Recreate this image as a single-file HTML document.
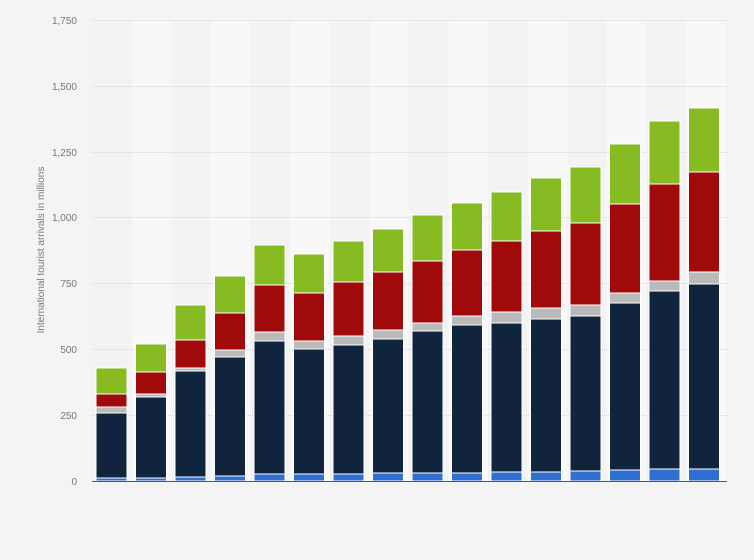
<!DOCTYPE html>
<html><head><meta charset="utf-8"><style>
html,body{margin:0;padding:0;background:#f4f4f4;}
svg{display:block;font-family:"Liberation Sans",sans-serif;}
</style></head><body>
<svg width="754" height="560" viewBox="0 0 754 560">
<rect width="754" height="560" fill="#f4f4f4"/>
<g id="stripes"></g>
<g stroke="#d6d6d6" stroke-width="1" stroke-dasharray="1,1">
<line x1="92" x2="727" y1="20.5" y2="20.5"/>
<line x1="92" x2="727" y1="86.5" y2="86.5"/>
<line x1="92" x2="727" y1="152.5" y2="152.5"/>
<line x1="92" x2="727" y1="217.5" y2="217.5"/>
<line x1="92" x2="727" y1="283.5" y2="283.5"/>
<line x1="92" x2="727" y1="349.5" y2="349.5"/>
<line x1="92" x2="727" y1="415.5" y2="415.5"/>
</g>
<g font-size="10" fill="#777" text-anchor="end">
<text x="77" y="24">1,750</text>
<text x="77" y="90">1,500</text>
<text x="77" y="156">1,250</text>
<text x="77" y="221">1,000</text>
<text x="77" y="287">750</text>
<text x="77" y="353">500</text>
<text x="77" y="419">250</text>
<text x="77" y="485">0</text>
</g>
<text transform="translate(44,250) rotate(-90)" font-size="10" fill="#777" text-anchor="middle">International tourist arrivals in millions</text>
<g id="bars" stroke="#fff" stroke-width="1"></g>
<line x1="92" x2="727" y1="481.5" y2="481.5" stroke="#555" stroke-width="1"/>
<script>
var ns="http://www.w3.org/2000/svg";
var st=document.getElementById("stripes");
for(var i=0;i<16;i++){var r=document.createElementNS(ns,"rect");r.setAttribute("x",92+i*39.6);r.setAttribute("y",20);r.setAttribute("width",39.6);r.setAttribute("height",461);r.setAttribute("fill",i%2?"#f8f8f8":"#f3f3f3");st.appendChild(r);}
var d=[[368,394,407,413,478],[344,372,394,397,478],[305,340,368,371,477],[276,313,350,357,476],[245,285,332,341,474],[254,293,341,349,474],[241,282,336,345,474],[229,272,330,339,473],[215,261,323,331,473],[203,250,316,325,473],[192,241,312,323,472],[178,231,308,319,472],[167,223,305,316,471],[144,204,293,303,470],[121,184,281,291,469],[108,172,272,284,469]];
var cols=["#86bb22","#a10a0a","#bababa","#10253d","#2f6fd2"];
var g=document.getElementById("bars");
d.forEach(function(b,i){var x=96+i*39.5;for(var k=0;k<5;k++){var top=b[k],bot=k<4?b[k+1]:481;var r=document.createElementNS(ns,"rect");r.setAttribute("x",x);r.setAttribute("y",top);r.setAttribute("width",31);r.setAttribute("height",Math.max(1,bot-top));r.setAttribute("fill",cols[k]);g.appendChild(r);}});
</script>
</svg>
</body></html>
